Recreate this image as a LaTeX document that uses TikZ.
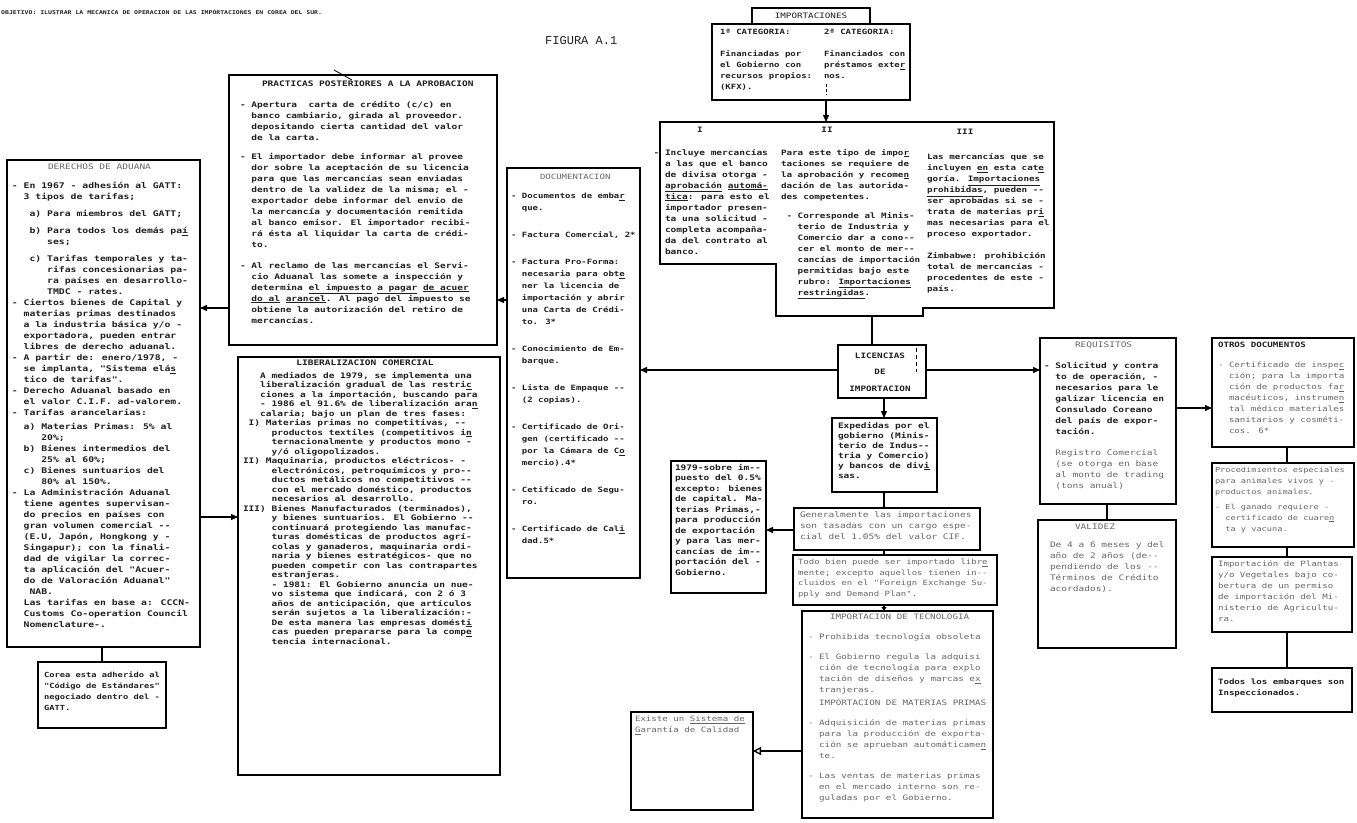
\documentclass[tikz,border=0pt]{standalone}
\usepackage{fontspec}
\usetikzlibrary{arrows.meta}
\newfontfamily\tw[FakeStretch=1.25]{DejaVu Sans Mono}
\newfontfamily\cour{Liberation Mono}
\definecolor{ink}{gray}{0.12}
\definecolor{fade}{gray}{0.4}
\newcommand\ind[1]{\hphantom{#1}}
\newcommand\dd{-{}-}
\newcommand\fs[2]{\fontsize{#1}{#2}\selectfont}
\newcommand\tb{\tw\bfseries}
\begin{document}
\begin{tikzpicture}[x=1pt,y=-1pt,
  box/.style={draw=black, line width=1.3pt, inner sep=0pt, outer sep=0pt, anchor=north west},
  tx/.style={anchor=north west, inner sep=0pt, outer sep=0pt, align=left, text=ink, font=\tb\fs{7.6}{11}},
  fx/.style={tx, text=fade, font=\tw\fs{7.6}{11}},
  ln/.style={line width=1.3pt},
  arr/.style={line width=1.3pt, -{Triangle[length=7pt,width=6pt]}},
  oarr/.style={line width=1.3pt, -{Triangle[open,length=8pt,width=8pt]}}]
\useasboundingbox (0,0) rectangle (1357,822);

% ---------- header ----------
\node[anchor=base west, inner sep=0pt, text=ink, font=\tb\fs{5.2}{6}] (hdr) at (1,14)
  {OBJETIVO: ILUSTRAR LA MECANICA DE OPERACION DE LAS IMPORTACIONES EN COREA DEL SUR.};
\node[anchor=base west, inner sep=0pt, text=ink, font=\cour\fs{12}{14}] (fig) at (545,44) {FIGURA A.1};

% ---------- boxes ----------
\node[box, minimum width=193, minimum height=487] (der) at (7,160) {};
\node[box, minimum width=128, minimum height=66] (cor) at (38,662) {};
\node[box, minimum width=268, minimum height=270] (pra) at (229,75) {};
\node[box, minimum width=262, minimum height=418] (lib) at (238,357) {};
\node[box, minimum width=133, minimum height=410] (doc) at (507,168) {};
\node[box, minimum width=198, minimum height=76] (cat) at (712,24) {};
\node[box, fill=white, minimum width=118, minimum height=16, text=ink, font=\tw\fs{7.4}{9}] (imp) at (752,8) {IMPORTACIONES};
\node[box, minimum width=88, minimum height=53] (lic) at (838,345) {};
\node[box, minimum width=105, minimum height=74] (bexp) at (832,418) {};
\node[box, minimum width=95, minimum height=132] (n79) at (671,461) {};
\node[box, minimum width=186, minimum height=42] (gen) at (794,508) {};
\node[box, minimum width=204, minimum height=50] (todo) at (793,555) {};
\node[box, minimum width=191, minimum height=207] (tec) at (802,611) {};
\node[box, minimum width=122, minimum height=98] (exi) at (631,712) {};
\node[box, minimum width=136, minimum height=166] (req) at (1040,338) {};
\node[box, minimum width=138, minimum height=128] (val) at (1038,520) {};
\node[box, minimum width=142, minimum height=109] (oth) at (1212,338) {};
\node[box, minimum width=142, minimum height=84] (proc) at (1212,463) {};
\node[box, minimum width=140, minimum height=75] (pla) at (1212,557) {};
\node[box, minimum width=140, minimum height=44] (tod) at (1212,668) {};

% stepped outline of the three import categories
\draw[ln] (660,122) -- (1054,122) -- (1054,308) -- (923,308) -- (923,316)
  -- (776,316) -- (776,264) -- (660,264) -- cycle;

% ---------- texts ----------
\node[fx] (derT) at (48,164) {DERECHOS DE ADUANA};
\node[tx, font=\tb\fs{7.8}{11}] (derX) at (12,182) {- En 1967 - adhesión al GATT:\\
\ind{xx}3 tipos de tarifas;\\[6pt]
\ind{xxx}a) Para miembros del GATT;\\[6pt]
\ind{xxx}b) Para todos los demás pa\underline{í}\\
\ind{xxxxxx}ses;\\[6pt]
\ind{xxx}c) Tarifas temporales y ta-\\
\ind{xxxxxx}rifas concesionarias pa-\\
\ind{xxxxxx}ra países en desarrollo-\\
\ind{xxxxxx}TMDC - rates.\\
- Ciertos bienes de Capital y\\
\ind{xx}materias primas destinados\\
\ind{xx}a la industria básica y/o -\\
\ind{xx}exportadora, pueden entrar\\
\ind{xx}libres de derecho aduanal.\\
- A partir de: enero/1978, -\\
\ind{xx}se implanta, "Sistema elá\underline{s}\\
\ind{xx}tico de tarifas".\\
- Derecho Aduanal basado en\\
\ind{xx}el valor C.I.F. ad-valorem.\\
- Tarifas arancelarias:\\[3pt]
\ind{xx}a) Materias Primas: 5\% al\\
\ind{xxxxx}20\%;\\
\ind{xx}b) Bienes intermedios del\\
\ind{xxxxx}25\% al 60\%;\\
\ind{xx}c) Bienes suntuarios del\\
\ind{xxxxx}80\% al 150\%.\\
- La Administración Aduanal\\
\ind{xx}tiene agentes supervisan-\\
\ind{xx}do precios en países con\\
\ind{xx}gran volumen comercial \dd\\
\ind{xx}(E.U, Japón, Hongkong y -\\
\ind{xx}Singapur); con la finali-\\
\ind{xx}dad de vigilar la correc-\\
\ind{xx}ta aplicación del "Acuer-\\
\ind{xx}do de Valoración Aduanal"\\
\ind{xxx}NAB.\\
\ind{xx}Las tarifas en base a: CCCN-\\
\ind{xx}Customs Co-operation Council\\
\ind{xx}Nomenclature-.};

\node[tx, font=\tb\fs{7}{11}] (corX) at (44,672) {Corea esta adherido al\\
"Código de Estándares"\\
negociado dentro del -\\
GATT.};

\node[tx] (praT) at (262,81) {PRACTICAS POSTERIORES A LA APROBACION};
\node[tx] (praX) at (240,101) {- Apertura\ \ carta de crédito (c/c) en\\
\ind{xx}banco cambiario, girada al proveedor.\\
\ind{xx}depositando cierta cantidad del valor\\
\ind{xx}de la carta.\\[8pt]
- El importador debe informar al provee\\
\ind{xx}dor sobre la aceptación de su licencia\\
\ind{xx}para que las mercancías sean enviadas\\
\ind{xx}dentro de la validez de la misma; el -\\
\ind{xx}exportador debe informar del envío de\\
\ind{xx}la mercancía y documentación remitida\\
\ind{xx}al banco emisor. El importador recibi-\\
\ind{xx}rá ésta al liquidar la carta de crédi-\\
\ind{xx}to.\\[10pt]
- Al reclamo de las mercancías el Servi-\\
\ind{xx}cio Aduanal las somete a inspección y\\
\ind{xx}determina \underline{el impuesto} \underline{a pagar} \underline{de acuer}\\
\ind{xx}\underline{do al} \underline{arancel}. Al pago del impuesto se\\
\ind{xx}obtiene la autorización del retiro de\\
\ind{xx}mercancías.};

\node[tx, anchor=north] (libT) at (365,360) {LIBERALIZACION COMERCIAL};
\node[tx, font=\tb\fs{7.6}{9.5}] (libX) at (243,372) {\ind{xxx}A mediados de 1979, se implementa una\\
\ind{xxx}liberalización gradual de las restri\underline{c}\\
\ind{xxx}ciones a la importación, buscando para\\
\ind{xxx}- 1986 el 91.6\% de liberalización ara\underline{n}\\
\ind{xxx}calaria; bajo un plan de tres fases:\\
\ind{x}I) Materias primas no competitivas, \dd\\
\ind{xxxxx}productos textiles (competitivos i\underline{n}\\
\ind{xxxxx}ternacionalmente y productos mono -\\
\ind{xxxxx}y/ó oligopolizados.\\
II) Maquinaria, productos eléctricos- -\\
\ind{xxxxx}electrónicos, petroquímicos y pro\dd\\
\ind{xxxxx}ductos metálicos no competitivos \dd\\
\ind{xxxxx}con el mercado doméstico, productos\\
\ind{xxxxx}necesarios al desarrollo.\\
III) Bienes Manufacturados (terminados),\\
\ind{xxxxx}y bienes suntuarios. El Gobierno \dd\\
\ind{xxxxx}continuará protegiendo las manufac-\\
\ind{xxxxx}turas domésticas de productos agrí-\\
\ind{xxxxx}colas y ganaderos, maquinaria ordi-\\
\ind{xxxxx}naria y bienes estratégicos- que no\\
\ind{xxxxx}pueden competir con las contrapartes\\
\ind{xxxxx}estranjeras.\\
\ind{xxxxx}- 1981: El Gobierno anuncia un nue-\\
\ind{xxxxx}vo sistema que indicará, con 2 ó 3\\
\ind{xxxxx}años de anticipación, que artículos\\
\ind{xxxxx}serán sujetos a la liberalización:-\\
\ind{xxxxx}De esta manera las empresas domést\underline{i}\\
\ind{xxxxx}cas pueden prepararse para la comp\underline{e}\\
\ind{xxxxx}tencia internacional.};

\node[fx, font=\tw\fs{7.2}{11}] (docT) at (540,174) {DOCUMENTACION};
\node[tx, font=\tb\fs{7.2}{12}] (docX) at (511,193) {- Documentos de emba\underline{r}\\
\ind{xx}que.\\[15pt]
- Factura Comercial, 2*\\[15pt]
- Factura Pro-Forma:\\
\ind{xx}necesaria para obt\underline{e}\\
\ind{xx}ner la licencia de\\
\ind{xx}importación y abrir\\
\ind{xx}una Carta de Crédi-\\
\ind{xx}to. 3*\\[15pt]
- Conocimiento de Em-\\
\ind{xx}barque.\\[15pt]
- Lista de Empaque \dd\\
\ind{xx}(2 copias).\\[15pt]
- Certificado de Ori-\\
\ind{xx}gen (certificado \dd\\
\ind{xx}por la Cámara de C\underline{o}\\
\ind{xx}mercio).4*\\[15pt]
- Cetificado de Segu-\\
\ind{xx}ro.\\[15pt]
- Certificado de Cal\underline{i}\\
\ind{xx}dad.5*};

\node[tx, font=\tb\fs{7.2}{11}] (cat1) at (720,29) {1ª CATEGORIA:\\[11pt]
Financiadas por\\
el Gobierno con\\
recursos propios:\\
(KFX).};
\node[tx, font=\tb\fs{7.2}{11}] (cat2) at (824,29) {2ª CATEGORIA:\\[11pt]
Financiados con\\
préstamos exte\underline{r}\\
nos.};

\node[anchor=base, inner sep=0pt, text=ink, font=\tb\fs{7.4}{9}] (lI) at (700,132) {I};
\node[anchor=base, inner sep=0pt, text=ink, font=\tb\fs{7.4}{9}] (lII) at (827,132) {II};
\node[anchor=base, inner sep=0pt, text=ink, font=\tb\fs{7.4}{9}] (lIII) at (965,134) {III};

\node[tx] (c1X) at (665,149) {\llap{- }Incluye mercancías\\
a las que el banco\\
de divisa otorga -\\
\underline{aprobación} \underline{automá-}\\
\underline{tica}: para esto el\\
importador presen-\\
ta una solicitud -\\
completa acompaña-\\
da del contrato al\\
banco.};
\node[tx, font=\tb\fs{7.4}{11}] (c2X) at (781,149) {Para este tipo de impo\underline{r}\\
taciones se requiere de\\
la aprobación y recome\underline{n}\\
dación de las autorida-\\
des competentes.\\[8pt]
\ind{x}- Corresponde al Minis-\\
\ind{xxx}terio de Industria y\\
\ind{xxx}Comercio dar a cono\dd\\
\ind{xxx}cer el monto de mer\dd\\
\ind{xxx}cancías de importación\\
\ind{xxx}permitidas bajo este\\
\ind{xxx}rubro: \underline{Importaciones}\\
\ind{xxx}\underline{restringidas}.};
\node[tx, font=\tb\fs{7.4}{11}] (c3X) at (927,154) {Las mercancías que se\\
incluyen \underline{en} esta cat\underline{e}\\
goría. \underline{Importaciones}\\
\underline{prohibidas}, pueden \dd\\
ser aprobadas si se -\\
trata de materias pr\underline{i}\\
mas necesarias para el\\
proceso exportador.\\[11pt]
Zimbabwe: prohibición\\
total de mercancías -\\
procedentes de este -\\
país.};

\node[tx, anchor=center, align=center, font=\tb\fs{7.4}{16.5}] (licT) at (880,372) {LICENCIAS\\DE\\IMPORTACION};

\node[tx, font=\tb\fs{7.6}{10}] (expX) at (838,422) {Expedidas por el\\
gobierno (Minis-\\
terio de Indus\dd\\
tria y Comercio)\\
y bancos de div\underline{i}\\
sas.};

\node[tx, font=\tb\fs{7.6}{10.5}] (n79X) at (675,464) {1979-sobre im\dd\\
puesto del 0.5\%\\
excepto: bienes\\
de capital. Ma-\\
terias Primas,-\\
para producción\\
de exportación\\
y para las mer-\\
cancías de im\dd\\
portación del -\\
Gobierno.};

\node[fx] (genX) at (800,512) {Generalmente las importaciones\\
son tasadas con un cargo espe-\\
cial del 1.05\% del valor CIF.};

\node[fx, font=\tw\fs{7.2}{10.5}] (todoX) at (798,559) {Todo bien puede ser importado libr\underline{e}\\
mente; excepto aquellos tienen in\dd\\
cluidos en el "Foreign Exchange Su-\\
pply and Demand Plan".};

\node[fx, font=\tw\fs{7.4}{11}] (tecT) at (830,614) {IMPORTACION DE TECNOLOGIA};
\node[fx, font=\tw\fs{7.4}{11}] (tecX) at (808,634) {- Prohibida tecnología obsoleta\\[9pt]
- El Gobierno regula la adquisi\\
\ind{xx}ción de tecnología para explo\\
\ind{xx}tación de diseños y marcas e\underline{x}\\
\ind{xx}tranjeras.\\[2pt]
\ind{xx}IMPORTACION DE MATERIAS PRIMAS\\[9pt]
- Adquisición de materias primas\\
\ind{xx}para la producción de exporta-\\
\ind{xx}ción se aprueban automáticame\underline{n}\\
\ind{xx}te.\\[9pt]
- Las ventas de materias primas\\
\ind{xx}en el mercado interno son re-\\
\ind{xx}guladas por el Gobierno.};

\node[fx, font=\tw\fs{7.3}{11}] (exiX) at (635,716) {Existe un \underline{Sistema de}\\
\underline{G}arantía de Calidad};

\node[fx] (reqT) at (1075,342) {REQUISITOS};
\node[tx] (reqX) at (1044,362) {- Solicitud y contra\\
\ind{xx}to de operación, -\\
\ind{xx}necesarios para le\\
\ind{xx}galizar licencia en\\
\ind{xx}Consulado Coreano\\
\ind{xx}del país de expor-\\
\ind{xx}tación.\\[10pt]
\textcolor{fade}{\mdseries\ind{xx}Registro Comercial}\\
\textcolor{fade}{\mdseries\ind{xx}(se otorga en base}\\
\textcolor{fade}{\mdseries\ind{xx}al monto de trading}\\
\textcolor{fade}{\mdseries\ind{xx}(tons anual)}};

\node[fx] (valT) at (1075,524) {VALIDEZ};
\node[fx] (valX) at (1050,542) {De 4 a 6 meses y del\\
año de 2 años (de\dd\\
pendiendo de los \dd\\
Términos de Crédito\\
acordados).};

\node[tx, font=\tb\fs{7.3}{11}] (othT) at (1218,342) {OTROS DOCUMENTOS};
\node[fx, font=\tw\fs{7.3}{11}] (othX) at (1218,362) {- Certificado de inspe\underline{c}\\
\ind{xx}ción; para la importa\\
\ind{xx}ción de productos fa\underline{r}\\
\ind{xx}macéuticos, instrume\underline{n}\\
\ind{xx}tal médico materiales\\
\ind{xx}sanitarios y cosméti-\\
\ind{xx}cos. 6*};

\node[fx, font=\tw\fs{6.9}{11}] (procX) at (1215,467) {Procedimientos especiales\\
para animales vivos y -\\
productos animales.\\[4pt]
- El ganado requiere -\\
\ind{xx}certificado de cuare\underline{n}\\
\ind{xx}ta y vacuna.};

\node[fx, font=\tw\fs{7.3}{11}] (plaX) at (1218,561) {Importación de Plantas\\
y/o Vegetales bajo co-\\
bertura de un permiso\\
de importación del Mi-\\
nisterio de Agricultu-\\
ra.};

\node[tx, font=\tb\fs{7.3}{11}] (todX) at (1218,679) {Todos los embarques son\\
Inspeccionados.};

% ---------- helper coordinates ----------
\coordinate (tl) at (826,122);
\coordinate (c2b) at (872,316);
\coordinate (yA) at (0,370);
\coordinate (yB) at (0,300);
\coordinate (yC) at (0,308);
\coordinate (yD) at (0,517);
\coordinate (yE) at (0,408);
\coordinate (yI) at (0,530);
\coordinate (yJ) at (0,751);
\coordinate (xF) at (1107,0);
\coordinate (xG) at (1287,0);
\coordinate (xH) at (884,0);

% ---------- connectors ----------
\draw[arr] (tl |- cat.south) -- (tl);
\draw[ln] (c2b) -- (c2b |- lic.north);
\draw[arr] (lic.west |- yA) -- (doc.east |- yA);
\draw[arr] (lic.east |- yA) -- (req.west |- yA);
\draw[arr] (doc.west |- yB) -- (pra.east |- yB);
\draw[arr] (pra.west |- yC) -- (der.east |- yC);
\draw[arr] (der.east |- yD) -- (lib.west |- yD);
\draw[ln] (cor.north |- der.south) -- (cor.north);
\draw[arr] (req.east |- yE) -- (oth.west |- yE);
\draw[ln] (req.south -| xF) -- (val.north -| xF);
\draw[ln] (oth.south -| xG) -- (proc.north -| xG);
\draw[ln] (proc.south -| xG) -- (pla.north -| xG);
\draw[ln] (pla.south -| xG) -- (tod.north -| xG);
\draw[arr] (lic.south -| xH) -- (bexp.north -| xH);
\draw[ln] (bexp.south -| xH) -- (gen.north -| xH);
\draw[ln] (gen.south -| xH) -- (todo.north -| xH);
\draw[line width=1.3pt, -{Triangle[length=4pt,width=5pt]}] (todo.south -| xH) -- (tec.north -| xH);
\draw[arr] (gen.west |- yI) -- (n79.east |- yI);
\draw[oarr] (tec.west |- yJ) -- (exi.east |- yJ);

% small marks
\draw[line width=0.8pt] (334,70) -- (352,80);
\draw[line width=0.8pt, dash pattern=on 3pt off 2pt] (826,84) -- (826,95);
\draw[line width=0.8pt, dash pattern=on 4pt off 3pt] (916,348) -- (916,372);
\end{tikzpicture}
\end{document}
